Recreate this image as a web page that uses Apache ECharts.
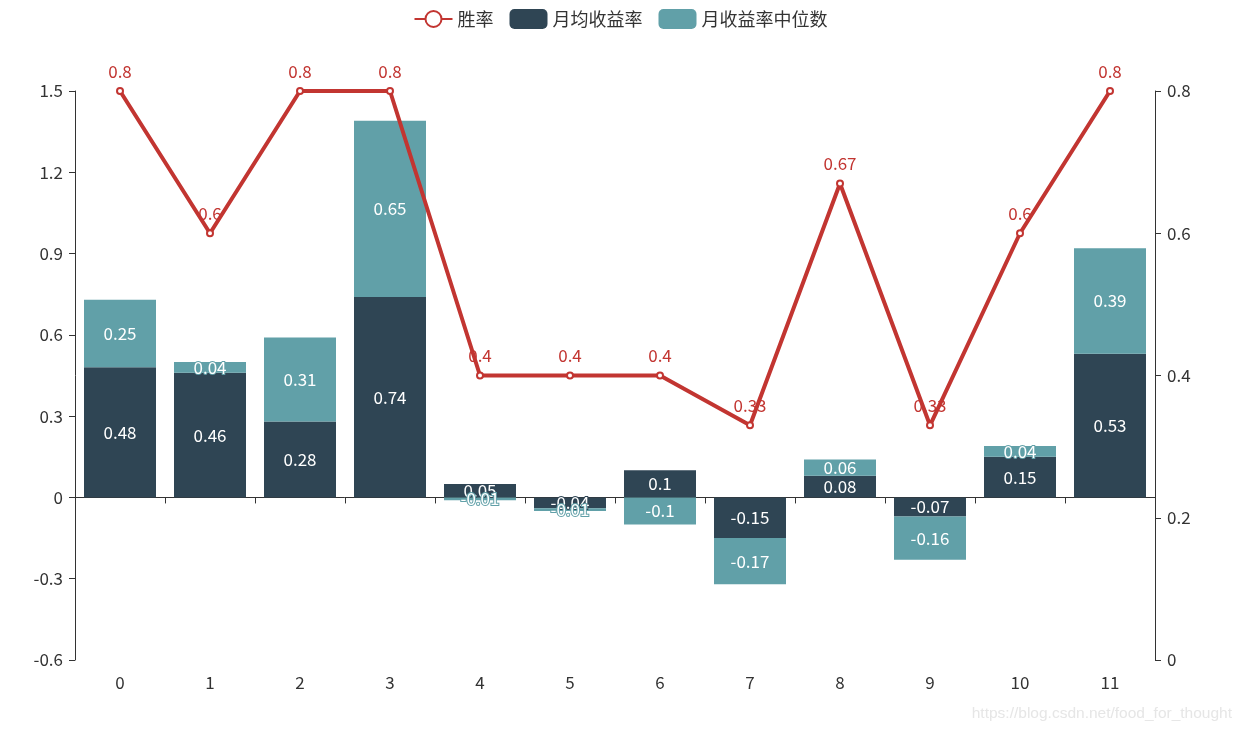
<!DOCTYPE html>
<html><head><meta charset="utf-8">
<script src="https://cdn.jsdelivr.net/npm/echarts@6/dist/echarts.min.js"></script>
<style>html,body{margin:0;padding:0;background:#fff}#c{width:1241px;height:732px}</style>
</head><body><div id="c"></div>
<script>
const categories = ['0','1','2','3','4','5','6','7','8','9','10','11'];
const winRate = [0.8, 0.6, 0.8, 0.8, 0.4, 0.4, 0.4, 0.33, 0.67, 0.33, 0.6, 0.8];
const meanReturn = [0.48, 0.46, 0.28, 0.74, 0.05, -0.04, 0.1, -0.15, 0.08, -0.07, 0.15, 0.53];
const medianReturn = [0.25, 0.04, 0.31, 0.65, -0.01, -0.01, -0.1, -0.17, 0.06, -0.16, 0.04, 0.39];
const FONT = '"Noto Sans CJK SC", "Noto Sans", sans-serif';
const chart = echarts.init(document.getElementById('c'));
const barLabel = {show: true, position: 'inside', fontSize: 17, fontFamily: FONT, color: '#fff'};
chart.setOption({
  animation: false,
  color: ['#c23531', '#2f4554', '#61a0a8'],
  textStyle: {fontFamily: FONT},
  legend: {
    top: 4, itemWidth: 38, itemHeight: 20, itemGap: 16,
    textStyle: {fontSize: 18, color: '#333', fontFamily: FONT},
    data: ['胜率', '月均收益率', '月收益率中位数']
  },
  grid: {left: 75, right: 86, top: 91, bottom: 72},
  xAxis: {
    type: 'category', data: categories,
    axisLine: {onZero: true, lineStyle: {color: '#333'}},
    axisTick: {show: true, length: 6},
    axisLabel: {fontSize: 17, color: '#333', margin: 14, fontFamily: FONT}
  },
  yAxis: [
    {type: 'value', min: -0.6, max: 1.5, interval: 0.3, splitLine: {show: false},
     axisLine: {show: true, lineStyle: {color: '#333'}}, axisTick: {show: true, length: 6},
     axisLabel: {fontSize: 17, color: '#333', margin: 12, fontFamily: FONT}},
    {type: 'value', min: 0, max: 0.8, interval: 0.2, splitLine: {show: false},
     axisLine: {show: true, lineStyle: {color: '#333'}}, axisTick: {show: true, length: 6},
     axisLabel: {fontSize: 17, color: '#333', margin: 12, fontFamily: FONT}}
  ],
  series: [
    {name: '胜率', type: 'line', yAxisIndex: 1, data: winRate, z: 5,
     symbol: 'emptyCircle', symbolSize: 6,
     lineStyle: {width: 4, color: '#c23531'}, itemStyle: {color: '#c23531'},
     label: {show: true, position: 'top', fontSize: 17, color: '#c23531', distance: 7, fontFamily: FONT}},
    {name: '月均收益率', type: 'bar', stack: 'r', data: meanReturn, barWidth: '80%',
     itemStyle: {color: '#2f4554'}, label: Object.assign({}, barLabel, {textBorderColor: '#2f4554', textBorderWidth: 2})},
    {name: '月收益率中位数', type: 'bar', stack: 'r', data: medianReturn, barWidth: '80%',
     itemStyle: {color: '#61a0a8'}, label: Object.assign({}, barLabel, {textBorderColor: '#61a0a8', textBorderWidth: 2})}
  ],
  graphic: [{type: 'text', right: 9, bottom: 10,
    style: {text: 'https://blog.csdn.net/food_for_thought', fill: '#e6e6e6', font: '15.5px "Liberation Sans", sans-serif'}}]
});
</script></body></html>
